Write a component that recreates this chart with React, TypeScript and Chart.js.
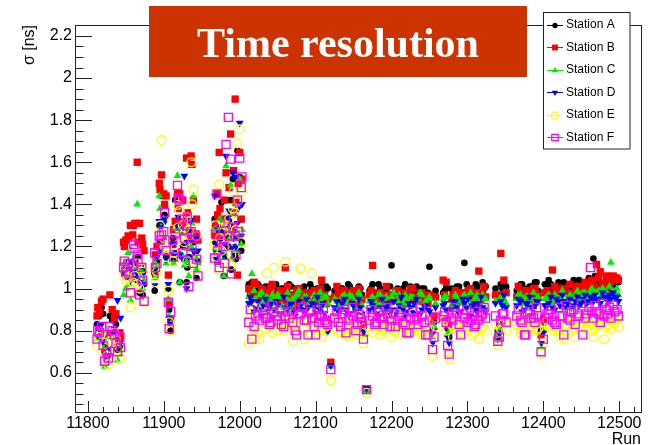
import { useEffect, useRef } from "react";
import { Chart, registerables } from "chart.js";

Chart.register(...registerables);

// Run numbers (shared by all stations)
const runs = [
  11812, 11815, 11818, 11822, 11825, 11829, 11832, 11835, 11839, 11842,
  11847, 11850, 11853, 11856, 11859, 11862, 11865, 11868, 11871, 11874,
  11888, 11891, 11894, 11897, 11900, 11903, 11906, 11909, 11912, 11915,
  11918, 11921, 11924, 11927, 11930, 11933, 11936, 11939, 11942, 11945,
  11967, 11970, 11973, 11976, 11979, 11982, 11985, 11988, 11991, 11994,
  11997, 12000, 12003, 12012, 12016, 12021, 12026, 12031, 12036, 12041,
  12045, 12050, 12055, 12060, 12065, 12070, 12075, 12080, 12085, 12090,
  12095, 12100, 12104, 12108, 12112, 12116, 12120, 12125, 12130, 12135,
  12140, 12145, 12150, 12155, 12159, 12163, 12167, 12171, 12175, 12180,
  12185, 12190, 12195, 12200, 12205, 12210, 12215, 12220, 12225, 12230,
  12235, 12240, 12245, 12250, 12254, 12258, 12268, 12272, 12276, 12281,
  12286, 12291, 12296, 12301, 12306, 12311, 12315, 12320, 12324, 12337,
  12340, 12344, 12348, 12351, 12365, 12370, 12375, 12379, 12384, 12389,
  12393, 12397, 12402, 12407, 12412, 12417, 12422, 12427, 12432, 12437,
  12442, 12447, 12452, 12457, 12462, 12466, 12470, 12475, 12480, 12485,
  12489, 12494, 12499,
  11813, 11820, 11827, 11837, 11843, 11848, 11854, 11860, 11866, 11872,
  11889, 11895, 11901, 11907, 11913, 11919, 11925, 11931, 11937, 11943,
  11968, 11971, 11974, 11980, 11986, 11989, 11992, 11995, 11998, 12002,
  12014, 12019, 12024, 12029, 12034, 12039, 12043, 12048, 12053, 12058,
  12063, 12068, 12073, 12078, 12083, 12088, 12093, 12098, 12102, 12106,
  12110, 12114, 12128, 12133, 12138, 12143, 12148, 12153, 12157, 12161,
  12173, 12178, 12183, 12188, 12193, 12198, 12203, 12208, 12213, 12218,
  12223, 12228, 12233, 12238, 12243, 12248, 12256, 12270, 12274, 12279,
  12284, 12289, 12294, 12299, 12304, 12309, 12313, 12318, 12322, 12342,
  12346, 12367, 12372, 12377, 12382, 12387, 12391, 12400, 12405, 12410,
  12415, 12420, 12425, 12430, 12435, 12440, 12445, 12450, 12455, 12460,
  12464, 12468, 12473, 12478, 12483, 12487, 12492, 12497,
];

const stationA = [
  0.83, 0.87, 0.91, 0.70, 0.72, 0.87, 0.85, 0.80, 0.71, 0.76,
  1.08, 1.10, 1.11, 1.05, 1.12, 1.13, 1.04, 0.98, 1.09, 1.02,
  0.99, 1.13, 1.30, 1.44, 1.33, 1.16, 1.00, 0.80, 1.24, 1.42,
  1.17, 1.03, 1.27, 1.14, 1.03, 1.15, 1.32, 1.22, 1.17, 1.13,
  1.33, 1.18, 1.26, 1.41, 1.06, 1.25, 1.20, 1.42, 1.52, 1.16,
  1.655, 1.53, 1.22, 1.02, 1.03, 0.99, 1.01, 0.98, 1.00, 0.97,
  1.01, 0.99, 1.00, 0.98, 1.02, 0.97, 1.00, 0.99, 1.01, 0.98,
  1.00, 0.97, 0.99, 1.01, 0.98, 1.00, 0.64, 0.99, 0.97, 1.00,
  0.98, 1.01, 0.99, 0.97, 1.00, 0.81, 0.525, 0.99, 1.02, 0.98,
  1.00, 0.97, 1.01, 1.11, 0.99, 0.98, 1.00, 0.97, 1.01, 0.99,
  0.98, 1.00, 0.97, 1.104, 0.80, 0.99, 0.98, 1.00, 0.77, 0.99,
  1.01, 0.98, 1.122, 1.00, 0.99, 1.02, 0.98, 1.03, 1.01, 1.00,
  0.80, 1.02, 0.99, 1.01, 0.99, 1.02, 1.00, 0.98, 1.01, 1.03,
  0.99, 0.80, 1.02, 1.04, 1.00, 1.01, 0.99, 1.03, 1.00, 1.02,
  1.01, 1.04, 1.00, 1.02, 1.03, 1.143, 1.01, 1.03, 1.00, 1.04,
  1.02, 1.01, 1.03,
  0.82, 0.88, 0.68, 0.83, 0.73, 1.06, 1.12, 1.09, 1.15, 0.97,
  1.06, 1.22, 1.35, 0.90, 1.14, 1.31, 1.20, 1.10, 1.27, 1.05,
  1.22, 1.12, 1.29, 1.15, 1.32, 1.09, 1.27, 1.14, 1.24, 1.18,
  1.00, 0.98, 1.02, 0.96, 1.01, 0.99, 0.97, 1.02, 0.95, 1.00,
  0.98, 1.01, 0.96, 1.00, 0.99, 0.97, 1.02, 0.98, 1.00, 0.96,
  0.99, 1.01, 0.97, 1.00, 0.98, 1.02, 0.96, 0.99, 1.01, 0.97,
  1.00, 0.98, 1.02, 0.96, 0.99, 1.01, 0.97, 1.00, 0.98, 1.02,
  0.97, 0.99, 1.01, 0.96, 1.00, 0.98, 0.84, 0.99, 0.81, 1.00,
  0.97, 1.01, 0.98, 1.02, 0.96, 0.99, 1.01, 0.97, 1.00, 0.83,
  1.00, 0.98, 1.02, 0.97, 1.01, 0.99, 1.03, 0.86, 1.00, 1.02,
  0.99, 1.03, 1.00, 1.02, 0.99, 1.04, 1.01, 1.03, 1.00, 1.05,
  1.02, 1.06, 1.03, 1.01, 1.05, 1.03, 1.02, 1.04,
];

const stationB = [
  0.87, 0.89, 0.94, 0.72, 0.70, 0.97, 0.90, 0.86, 0.75, 0.79,
  1.22, 1.23, 1.25, 1.30, 1.255, 1.31, 1.60, 1.31, 1.24, 1.18,
  1.08, 1.20, 1.50, 1.54, 1.45, 1.44, 1.064, 0.855, 1.21, 1.32,
  1.45, 1.45, 1.32, 1.29, 1.62, 1.25, 1.63, 1.42, 1.26, 1.23,
  1.30, 1.45, 1.647, 1.25, 1.33, 1.55, 1.28, 1.734, 1.36, 1.90,
  1.064, 1.647, 1.52, 1.00, 0.98, 1.02, 0.96, 0.99, 0.95, 1.01,
  0.97, 0.94, 0.98, 1.099, 0.96, 0.93, 0.99, 0.95, 0.97, 0.94,
  0.98, 0.96, 0.93, 1.04, 0.97, 0.95, 0.65, 0.96, 0.98, 0.94,
  0.97, 0.95, 0.99, 0.96, 0.93, 0.83, 0.52, 0.97, 1.11, 0.95,
  0.98, 0.94, 0.97, 0.96, 0.99, 0.95, 0.93, 0.97, 1.00, 0.96,
  0.94, 0.98, 0.95, 0.97, 0.83, 0.96, 1.04, 1.03, 0.822, 0.97,
  0.95, 0.98, 0.96, 0.99, 0.97, 0.95, 1.083, 0.98, 0.96, 0.97,
  0.77, 1.167, 1.04, 0.98, 0.96, 0.98, 0.95, 0.99, 0.97, 1.00,
  0.96, 0.78, 0.98, 0.97, 1.088, 0.99, 0.97, 1.00, 0.98, 0.96,
  1.00, 0.98, 1.01, 0.99, 1.02, 1.00, 1.115, 1.08, 1.02, 0.99,
  1.03, 1.05, 1.04,
  0.91, 0.95, 0.78, 0.88, 0.77, 1.20, 1.24, 1.30, 1.22, 1.21,
  1.16, 1.47, 1.40, 0.93, 1.28, 1.38, 1.42, 1.36, 1.59, 1.33,
  1.25, 1.35, 1.38, 1.42, 1.48, 1.29, 1.56, 1.41, 1.50, 1.33,
  0.97, 1.03, 0.95, 1.00, 0.93, 0.98, 1.02, 0.96, 0.99, 0.94,
  1.01, 0.97, 0.92, 1.00, 0.95, 0.98, 0.93, 0.99, 0.94, 1.00,
  0.96, 0.93, 1.01, 0.95, 0.99, 0.94, 0.98, 0.92, 1.00, 0.95,
  0.99, 0.93, 0.98, 0.95, 1.01, 0.94, 0.97, 0.99, 0.93, 0.98,
  0.95, 1.00, 0.94, 0.98, 0.96, 0.93, 0.87, 0.97, 0.85, 0.95,
  0.99, 0.94, 0.98, 0.96, 1.00, 0.93, 0.98, 0.95, 1.01, 0.80,
  0.97, 1.01, 0.96, 0.99, 0.95, 1.00, 0.97, 0.84, 0.99, 0.96,
  1.01, 0.97, 1.00, 0.98, 1.02, 0.97, 1.01, 0.99, 1.03, 1.00,
  1.04, 1.01, 1.05, 1.02, 1.06, 1.03, 1.06, 1.05,
];

const stationC = [
  0.79, 0.78, 0.80, 0.63, 0.66, 0.77, 0.80, 0.77, 0.66, 0.74,
  0.97, 1.00, 1.17, 0.945, 1.05, 1.10, 1.40, 1.06, 1.08, 1.04,
  1.05, 1.10, 1.44, 1.30, 1.33, 1.12, 0.95, 0.83, 1.16, 1.29,
  1.536, 1.03, 1.16, 1.11, 1.13, 1.06, 1.20, 1.44, 1.15, 1.12,
  1.28, 1.19, 1.22, 1.15, 1.06, 1.582, 1.23, 1.49, 1.25, 1.20,
  1.25, 1.52, 1.28, 0.96, 1.07, 0.95, 0.97, 0.94, 0.96, 0.93,
  0.95, 0.97, 0.92, 0.96, 0.94, 0.95, 0.97, 0.93, 0.96, 0.94,
  0.92, 0.95, 0.97, 0.94, 0.96, 0.93, 0.63, 0.95, 0.92, 0.96,
  0.94, 0.97, 0.93, 0.95, 0.96, 0.78, 0.515, 0.94, 0.96, 0.93,
  0.97, 0.95, 0.92, 0.96, 0.94, 0.97, 0.93, 0.95, 0.96, 0.92,
  0.95, 0.97, 0.94, 0.96, 0.77, 0.93, 0.95, 0.96, 0.795, 0.93,
  0.96, 0.94, 0.97, 0.95, 0.93, 0.96, 0.94, 0.97, 0.95, 0.94,
  0.78, 0.96, 0.95, 0.93, 0.95, 0.97, 0.94, 0.96, 0.95, 0.93,
  0.96, 0.72, 0.95, 0.97, 0.94, 0.96, 0.95, 0.97, 0.94, 0.96,
  0.95, 0.97, 0.98, 0.96, 0.99, 0.97, 0.98, 0.96, 0.99, 0.97,
  1.124, 0.98, 0.97,
  0.76, 0.72, 0.70, 0.75, 0.69, 1.12, 1.02, 1.14, 1.09, 1.00,
  1.12, 1.38, 1.24, 0.87, 1.12, 1.27, 1.26, 1.19, 1.31, 1.09,
  1.19, 1.14, 1.33, 1.17, 1.28, 1.14, 1.35, 1.18, 1.26, 1.21,
  0.93, 0.99, 0.91, 0.98, 0.95, 0.90, 0.97, 0.93, 0.96, 0.91,
  0.98, 0.92, 0.95, 0.99, 0.90, 0.96, 0.93, 0.97, 0.91, 0.98,
  0.92, 0.96, 0.94, 0.90, 0.97, 0.93, 0.96, 0.91, 0.98, 0.92,
  0.95, 0.91, 0.97, 0.93, 0.96, 0.90, 0.98, 0.94, 0.91, 0.97,
  0.92, 0.96, 0.93, 0.98, 0.91, 0.95, 0.82, 0.96, 0.78, 0.92,
  0.97, 0.93, 0.96, 0.91, 0.98, 0.94, 0.97, 0.92, 0.95, 0.81,
  0.94, 0.97, 0.93, 0.96, 0.92, 0.98, 0.94, 0.80, 0.96, 0.93,
  0.97, 0.95, 0.99, 0.94, 0.97, 0.96, 0.99, 0.95, 0.98, 0.97,
  1.00, 0.98, 0.99, 1.00, 0.98, 1.01, 0.99, 1.00,
];

const stationD = [
  0.82, 0.80, 0.83, 0.67, 0.69, 0.79, 0.78, 0.81, 0.945, 0.74,
  1.07, 1.06, 1.10, 1.04, 1.08, 1.12, 1.07, 1.03, 1.11, 1.07,
  1.015, 1.15, 1.32, 1.29, 1.31, 1.14, 1.02, 0.83, 1.17, 1.17,
  1.30, 1.16, 1.28, 1.535, 1.00, 1.15, 1.325, 1.18, 1.24, 1.18,
  1.44, 1.21, 1.17, 1.27, 1.16, 1.63, 1.34, 1.30, 1.55, 1.53,
  1.31, 1.786, 1.40, 0.93, 0.94, 0.91, 0.90, 0.92, 0.89, 0.93,
  0.90, 0.92, 0.88, 0.91, 0.93, 0.89, 0.90, 0.92, 0.88, 0.91,
  0.93, 0.89, 0.90, 0.92, 0.88, 0.795, 0.635, 0.91, 0.89, 0.93,
  0.90, 0.88, 0.92, 0.89, 0.91, 0.79, 0.525, 0.90, 0.92, 0.88,
  0.91, 0.89, 0.93, 0.90, 0.88, 0.92, 0.90, 0.89, 0.91, 0.93,
  0.88, 0.90, 0.92, 0.89, 0.74, 0.91, 0.92, 0.90, 0.741, 0.94,
  0.91, 0.89, 0.93, 0.95, 0.92, 0.90, 0.93, 0.91, 0.89, 0.93,
  0.76, 0.94, 0.97, 0.91, 0.92, 0.94, 0.90, 0.93, 0.91, 0.92,
  0.94, 0.74, 0.92, 0.93, 0.91, 0.95, 0.92, 0.94, 0.93, 0.91,
  0.94, 0.92, 0.95, 0.93, 0.96, 0.94, 0.95, 0.93, 0.96, 0.94,
  0.95, 0.96, 0.94,
  0.78, 0.75, 0.72, 0.76, 0.86, 1.09, 1.13, 1.05, 1.10, 1.02,
  1.09, 1.18, 1.33, 0.86, 1.21, 1.34, 1.14, 1.22, 1.26, 1.13,
  1.14, 1.28, 1.22, 1.21, 1.37, 1.19, 1.24, 1.20, 1.38, 1.25,
  0.96, 0.89, 0.94, 0.87, 0.95, 0.91, 0.86, 0.94, 0.88, 0.96,
  0.90, 0.93, 0.87, 0.94, 0.90, 0.95, 0.87, 0.92, 0.96, 0.89,
  0.93, 0.86, 0.94, 0.90, 0.95, 0.87, 0.93, 0.89, 0.95, 0.88,
  0.94, 0.90, 0.86, 0.95, 0.91, 0.88, 0.94, 0.90, 0.96, 0.87,
  0.93, 0.89, 0.95, 0.88, 0.92, 0.90, 0.80, 0.93, 0.77, 0.90,
  0.94, 0.88, 0.95, 0.91, 0.87, 0.93, 0.89, 0.96, 0.90, 0.79,
  0.92, 0.95, 0.89, 0.93, 0.96, 0.90, 0.94, 0.79, 0.92, 0.96,
  0.90, 0.94, 0.97, 0.91, 0.95, 0.92, 0.96, 0.93, 0.97, 0.94,
  0.96, 0.97, 0.95, 0.98, 0.96, 0.97, 0.98, 0.96,
];

const stationE = [
  0.73, 0.77, 0.79, 0.66, 0.68, 0.75, 0.74, 0.79, 0.71, 0.72,
  1.135, 1.04, 1.05, 0.91, 1.03, 1.06, 1.02, 1.00, 1.095, 0.935,
  1.10, 1.08, 1.26, 1.705, 1.24, 1.15, 0.99, 0.80, 1.13, 1.19,
  1.397, 1.37, 1.25, 1.22, 1.34, 1.28, 1.60, 1.47, 1.09, 1.14,
  1.21, 1.15, 1.495, 1.18, 1.27, 1.30, 1.24, 1.11, 1.38, 1.36,
  1.69, 1.756, 1.46, 0.74, 0.81, 0.77, 0.76, 0.84, 1.072, 0.82,
  1.099, 0.80, 0.85, 1.127, 0.83, 0.75, 0.82, 1.096, 0.76, 0.84,
  1.072, 0.81, 0.85, 0.77, 0.83, 0.80, 0.565, 0.82, 0.79, 0.84,
  0.78, 0.80, 0.83, 0.78, 0.85, 0.74, 0.505, 0.82, 0.79, 0.84,
  0.78, 0.81, 0.85, 0.77, 0.80, 0.83, 0.78, 0.82, 0.79, 0.84,
  0.80, 0.78, 0.83, 0.81, 0.68, 0.82, 0.84, 0.80, 0.664, 0.77,
  0.82, 0.79, 0.83, 0.80, 0.78, 0.84, 0.76, 0.82, 0.80, 0.83,
  0.73, 0.81, 0.84, 0.80, 0.83, 0.79, 0.82, 0.85, 0.80, 0.83,
  0.81, 0.69, 0.84, 0.82, 0.80, 0.84, 0.77, 0.76, 0.83, 0.80,
  0.77, 0.82, 0.84, 0.81, 0.83, 0.77, 0.82, 0.85, 0.76, 0.83,
  0.81, 0.84, 0.82,
  0.80, 0.70, 0.64, 0.76, 0.67, 1.07, 1.09, 0.95, 1.12, 1.08,
  1.03, 1.30, 1.20, 0.84, 1.17, 1.29, 1.30, 1.13, 1.40, 1.25,
  1.30, 1.09, 1.24, 1.20, 1.33, 1.16, 1.46, 1.28, 1.42, 1.22,
  0.86, 0.90, 0.79, 0.88, 0.81, 0.87, 0.79, 0.89, 0.83, 0.80,
  0.88, 0.85, 0.79, 0.87, 0.81, 0.86, 0.78, 0.88, 0.84, 0.80,
  0.87, 0.82, 0.86, 0.80, 0.88, 0.77, 0.86, 0.81, 0.87, 0.79,
  0.86, 0.82, 0.88, 0.80, 0.87, 0.84, 0.79, 0.88, 0.82, 0.86,
  0.80, 0.88, 0.83, 0.79, 0.87, 0.84, 0.75, 0.86, 0.70, 0.83,
  0.88, 0.80, 0.86, 0.82, 0.87, 0.79, 0.85, 0.81, 0.88, 0.75,
  0.84, 0.87, 0.81, 0.86, 0.82, 0.88, 0.80, 0.74, 0.85, 0.82,
  0.87, 0.80, 0.86, 0.83, 0.88, 0.81, 0.86, 0.82, 0.87, 0.84,
  0.80, 0.86, 0.83, 0.87, 0.82, 0.86, 0.84, 0.87,
];

const stationF = [
  0.76, 0.79, 0.82, 0.655, 0.70, 0.82, 0.80, 0.78, 0.70, 0.77,
  1.10, 1.08, 1.12, 0.98, 1.11, 1.19, 1.16, 0.97, 1.10, 0.94,
  1.17, 1.12, 1.25, 1.255, 1.27, 1.18, 0.935, 0.89, 1.23, 1.26,
  1.49, 1.42, 1.33, 1.24, 1.30, 1.01, 1.27, 1.12, 1.25, 1.06,
  1.145, 1.45, 1.10, 1.23, 1.20, 1.685, 1.813, 1.615, 1.29, 1.25,
  1.42, 1.62, 1.53, 0.84, 0.76, 0.87, 0.85, 0.88, 0.86, 0.84,
  0.89, 0.85, 0.83, 0.87, 0.86, 0.84, 0.78, 0.88, 0.85, 0.78,
  0.86, 0.78, 0.84, 0.87, 0.85, 0.83, 0.615, 0.86, 0.84, 0.88,
  0.79, 0.85, 0.87, 0.83, 0.86, 0.76, 0.52, 0.85, 0.87, 0.84,
  0.86, 0.83, 0.88, 0.85, 0.82, 0.87, 0.84, 0.79, 0.86, 0.85,
  0.83, 0.87, 0.78, 0.85, 0.71, 0.86, 0.87, 0.84, 0.689, 0.85,
  0.88, 0.78, 0.86, 0.84, 0.87, 0.83, 0.85, 0.88, 0.86, 0.87,
  0.75, 0.85, 0.88, 0.84, 0.87, 0.85, 0.78, 0.88, 0.86, 0.84,
  0.87, 0.70, 0.86, 0.88, 0.85, 0.83, 0.87, 0.78, 0.86, 0.89,
  0.83, 0.87, 0.78, 0.88, 1.10, 0.86, 0.89, 0.84, 0.87, 0.88,
  0.86, 0.89, 0.87,
  0.80, 0.73, 0.67, 0.74, 0.72, 1.13, 1.07, 1.21, 1.14, 1.04,
  1.10, 1.23, 1.36, 0.81, 1.15, 1.43, 1.17, 1.34, 1.20, 1.14,
  1.26, 1.18, 1.31, 1.12, 1.25, 1.07, 1.33, 1.16, 1.27, 1.48,
  0.90, 0.82, 0.88, 0.91, 0.86, 0.83, 0.92, 0.87, 0.90, 0.82,
  0.89, 0.92, 0.80, 0.88, 0.91, 0.85, 0.89, 0.82, 0.90, 0.87,
  0.91, 0.84, 0.89, 0.82, 0.90, 0.86, 0.91, 0.80, 0.88, 0.84,
  0.90, 0.83, 0.89, 0.86, 0.91, 0.82, 0.88, 0.85, 0.90, 0.83,
  0.79, 0.89, 0.86, 0.91, 0.84, 0.78, 0.77, 0.89, 0.73, 0.86,
  0.91, 0.83, 0.88, 0.90, 0.85, 0.82, 0.89, 0.87, 0.91, 0.77,
  0.88, 0.90, 0.84, 0.78, 0.89, 0.86, 0.91, 0.76, 0.88, 0.90,
  0.84, 0.91, 0.87, 0.92, 0.85, 0.90, 0.88, 0.93, 0.86, 0.91,
  0.89, 0.92, 0.88, 0.93, 0.90, 0.91, 0.92, 0.90,
];

const stationLabels = ["Station A", "Station B", "Station C", "Station D", "Station E", "Station F"];
const stationValues = [stationA, stationB, stationC, stationD, stationE, stationF];

const titleText = "Time resolution";
const xTitle = "Run";
const yTitle = "σ [ns]";

const X_MIN = 11783;
const X_MAX = 12530;
const Y_MIN = 0.409;
const Y_MAX = 2.252;
const X_STEP = 100;
const X_MINOR = 20;
const Y_STEP = 0.2;
const Y_MINOR = 0.05;

type Shape = "circle" | "rect" | "triUp" | "triDown";
interface MarkerDef { color: string; shape: Shape; filled: boolean; r: number; bw: number }

const markerDefs: MarkerDef[] = [
  { color: "#000000", shape: "circle", filled: true, r: 3.3, bw: 0 },
  { color: "#ff0000", shape: "rect", filled: true, r: 5.2, bw: 0 },
  { color: "#00ee00", shape: "triUp", filled: true, r: 4.5, bw: 0 },
  { color: "#0000ff", shape: "triDown", filled: true, r: 4.5, bw: 0 },
  { color: "#ffff00", shape: "circle", filled: false, r: 4.4, bw: 1.3 },
  { color: "#ff00ff", shape: "rect", filled: false, r: 5.7, bw: 1.3 },
];

const FONT_SANS = '"Liberation Sans", Arial, Helvetica, sans-serif';

function drawMarker(ctx: CanvasRenderingContext2D, m: MarkerDef, x: number, y: number, scale: number) {
  const r = m.r * scale;
  ctx.save();
  ctx.beginPath();
  if (m.shape === "circle") {
    ctx.arc(x, y, r, 0, Math.PI * 2);
  } else if (m.shape === "rect") {
    const h = r * Math.SQRT1_2;
    ctx.rect(x - h, y - h, 2 * h, 2 * h);
  } else {
    let rad = m.shape === "triDown" ? Math.PI : 0;
    ctx.moveTo(x + Math.sin(rad) * r, y - Math.cos(rad) * r);
    rad += (2 * Math.PI) / 3;
    ctx.lineTo(x + Math.sin(rad) * r, y - Math.cos(rad) * r);
    rad += (2 * Math.PI) / 3;
    ctx.lineTo(x + Math.sin(rad) * r, y - Math.cos(rad) * r);
    ctx.closePath();
  }
  if (m.filled) {
    ctx.fillStyle = m.color;
    ctx.fill();
  } else {
    ctx.strokeStyle = m.color;
    ctx.lineWidth = m.bw;
    ctx.stroke();
  }
  ctx.restore();
}

const rootPlugin = {
  id: "rootDecor",
  afterDraw(chart: any) {
    const ctx: CanvasRenderingContext2D = chart.ctx;
    const { left, right, top, bottom } = chart.chartArea;
    const xs = chart.scales.x;
    const ys = chart.scales.y;
    ctx.save();
    // frame
    ctx.strokeStyle = "#222";
    ctx.lineWidth = 1;
    ctx.strokeRect(Math.round(left) + 0.5, Math.round(top) + 0.5, Math.round(right - left) - 1, Math.round(bottom - top) - 1);

    // y ticks (inside)
    ctx.beginPath();
    const yStart = Math.ceil(ys.min / Y_MINOR - 1e-9);
    for (let k = yStart; k * Y_MINOR <= ys.max + 1e-9; k++) {
      const v = k * Y_MINOR;
      const py = Math.round(ys.getPixelForValue(v)) + 0.5;
      const q = v / Y_STEP;
      const major = Math.abs(q - Math.round(q)) < 1e-6;
      const len = major ? 17 : 8.5;
      ctx.moveTo(left, py);
      ctx.lineTo(left + len, py);
    }
    // x ticks (inside)
    const xStart = Math.ceil(xs.min / X_MINOR);
    for (let k = xStart; k * X_MINOR <= xs.max; k++) {
      const v = k * X_MINOR;
      const px = Math.round(xs.getPixelForValue(v)) + 0.5;
      const major = v % X_STEP === 0;
      const len = major ? 12 : 6;
      ctx.moveTo(px, bottom);
      ctx.lineTo(px, bottom - len);
    }
    ctx.stroke();

    // axis titles
    ctx.fillStyle = "#000";
    ctx.font = `16px ${FONT_SANS}`;
    ctx.textAlign = "right";
    ctx.textBaseline = "alphabetic";
    ctx.fillText(xTitle, right - 1, 444);
    ctx.save();
    ctx.translate(34, top);
    ctx.rotate(-Math.PI / 2);
    ctx.textAlign = "right";
    ctx.fillText(yTitle, 0, 0);
    ctx.restore();

    // title box
    ctx.fillStyle = "#cc3300";
    ctx.fillRect(149, 6, 378, 71);
    ctx.fillStyle = "#ffffff";
    ctx.font = `bold 42px "Liberation Serif", "Times New Roman", serif`;
    ctx.textAlign = "center";
    ctx.fillText(titleText, 338, 57);

    // legend
    ctx.fillStyle = "#ffffff";
    ctx.fillRect(543, 12, 87, 137);
    ctx.strokeStyle = "#222";
    ctx.lineWidth = 1;
    ctx.strokeRect(543.5, 12.5, 86.5, 136.5);
    ctx.font = `12px ${FONT_SANS}`;
    ctx.textAlign = "left";
    ctx.textBaseline = "middle";
    stationLabels.forEach((label, i) => {
      const m = markerDefs[i];
      const cy = 24.5 + i * 22.5;
      ctx.strokeStyle = m.color;
      ctx.lineWidth = 1;
      ctx.beginPath();
      ctx.moveTo(547, Math.round(cy) + 0.5);
      ctx.lineTo(563, Math.round(cy) + 0.5);
      ctx.stroke();
      drawMarker(ctx, m, 555, Math.round(cy) + 0.5, 0.8);
      ctx.fillStyle = "#000";
      ctx.fillText(label, 566, cy + 0.5);
    });
    ctx.restore();
  },
};

export default function App() {
  const canvasRef = useRef<HTMLCanvasElement | null>(null);

  useEffect(() => {
    document.body.style.margin = "0";
    const canvas = canvasRef.current;
    if (!canvas) return;

    const datasets = stationValues.map((vals, i) => {
      const m = markerDefs[i];
      return {
        label: stationLabels[i],
        data: runs.map((r, j) => ({ x: r, y: vals[j] })),
        showLine: false,
        order: 6 - i,
        pointStyle: m.shape === "circle" ? "circle" : m.shape === "rect" ? "rect" : "triangle",
        rotation: m.shape === "triDown" ? 180 : 0,
        pointRadius: m.r,
        pointHoverRadius: m.r,
        pointBorderWidth: m.bw,
        pointBackgroundColor: m.filled ? m.color : "rgba(0,0,0,0)",
        pointBorderColor: m.color,
        backgroundColor: m.filled ? m.color : "rgba(0,0,0,0)",
        borderColor: m.color,
      };
    });

    const chart = new Chart(canvas, {
      type: "scatter",
      data: { datasets: datasets as any },
      options: {
        responsive: false,
        animation: false,
        devicePixelRatio: 1,
        events: [],
        layout: { padding: { top: 25, right: 7, left: 0, bottom: 0 } },
        plugins: {
          legend: { display: false },
          tooltip: { enabled: false },
          title: { display: false },
        },
        scales: {
          x: {
            type: "linear",
            position: "bottom",
            min: X_MIN,
            max: X_MAX,
            afterFit: (s: any) => { s.height = 32; },
            grid: { display: false, drawTicks: false },
            border: { display: false },
            ticks: {
              stepSize: X_STEP,
              includeBounds: false,
              autoSkip: false,
              maxRotation: 0,
              padding: 1,
              color: "#000",
              font: { family: FONT_SANS, size: 16 },
              callback: (v: any) => String(v),
            },
          },
          y: {
            type: "linear",
            position: "left",
            min: Y_MIN,
            max: Y_MAX,
            afterFit: (s: any) => { s.width = 75; },
            grid: { display: false, drawTicks: false },
            border: { display: false },
            ticks: {
              stepSize: Y_STEP,
              includeBounds: false,
              autoSkip: false,
              padding: 3,
              color: "#000",
              font: { family: FONT_SANS, size: 16 },
              callback: (v: any) => String(Math.round(Number(v) * 100) / 100),
            },
          },
        },
      },
      plugins: [rootPlugin],
    });

    return () => chart.destroy();
  }, []);

  return <canvas ref={canvasRef} width={649} height={445} style={{ display: "block" }} />;
}
